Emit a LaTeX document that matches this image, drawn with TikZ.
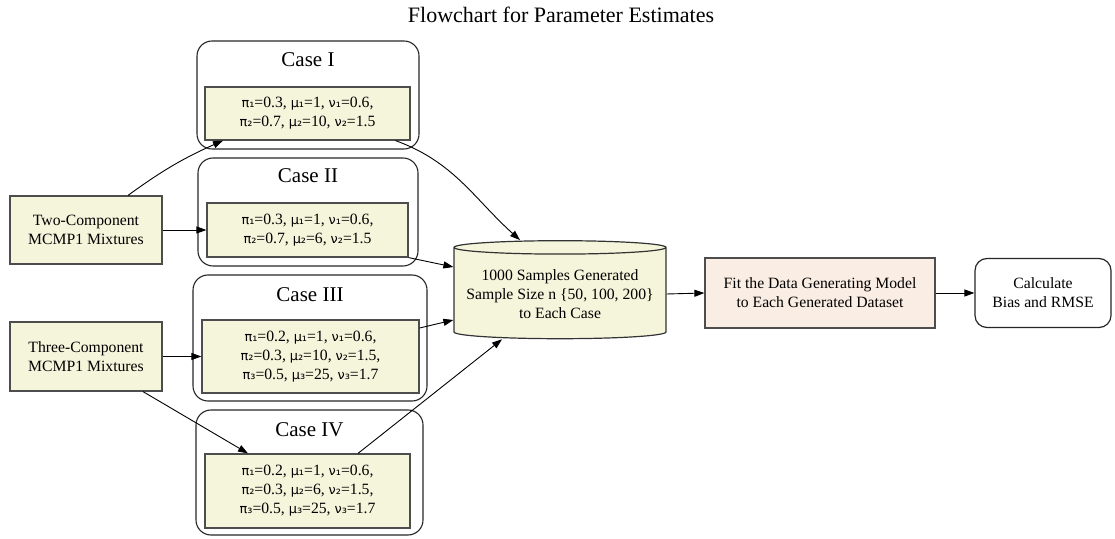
\documentclass[tikz,border=0pt]{standalone}
\usepackage{fontspec}
\setmainfont{Liberation Serif}
\newfontfamily\grk{DejaVu Sans}[Scale=0.82]
\usetikzlibrary{arrows.meta,shapes.geometric}

\newcommand\gk[1]{{\grk #1}}
\newcommand\bodyfont{\fontsize{15.7}{19}\selectfont}
\newcommand\casefont{\fontsize{21}{25}\selectfont}

\definecolor{boxfill}{HTML}{F5F5DC}
\definecolor{fitfill}{HTML}{FAEDE3}
\definecolor{boxline}{HTML}{4D4D4D}

\tikzset{
    box/.style={draw=boxline, fill=boxfill, line width=1.2pt, align=center,
        inner sep=2pt, font=\bodyfont},
    casebox/.style={draw=black!85, line width=1.1pt, rounded corners=15pt,
        inner sep=0pt},
    casetitle/.style={inner sep=0pt, font=\casefont},
    cyl/.style={cylinder, shape border rotate=90, aspect=0.07, draw=black!80,
        line width=1.2pt, cylinder uses custom fill, cylinder body fill=boxfill,
        cylinder end fill=boxfill, align=center, inner sep=2pt, font=\bodyfont},
    link/.style={->, line width=0.9pt}
}

\begin{document}
\begin{tikzpicture}[x=1pt,y=1pt,>={Triangle[length=10pt,width=7pt]}]
  % Page
    \useasboundingbox (0,0) rectangle (1115,538);

  % Title
    \node[font=\fontsize{22}{26}\selectfont, inner sep=0pt] (title) at (561,523)
      {Flowchart for Parameter Estimates};

  % Mixture types
    \node[box, minimum width=152pt, minimum height=68pt] (two) at (86,308)
      {Two-Component\\MCMP1 Mixtures};
    \node[box, minimum width=152pt, minimum height=69pt] (three) at (86,181.5)
      {Three-Component\\MCMP1 Mixtures};

  % Cases
    \node[casebox, minimum width=222pt, minimum height=108pt] (c1) at (308,443) {};
    \node[casetitle] (c1t) at (308,478.5) {Case I};
    \node[box, minimum width=205pt, minimum height=53pt] (c1in) at (307.5,424.5)
      {\gk{π₁}=0.3, \gk{μ₁}=1, \gk{ν₁}=0.6,\\\gk{π₂}=0.7, \gk{μ₂}=10, \gk{ν₂}=1.5};

    \node[casebox, minimum width=220pt, minimum height=108pt] (c2) at (308,326) {};
    \node[casetitle] (c2t) at (308,362.5) {Case II};
    \node[box, minimum width=201pt, minimum height=54pt] (c2in) at (307.5,308)
      {\gk{π₁}=0.3, \gk{μ₁}=1, \gk{ν₁}=0.6,\\\gk{π₂}=0.7, \gk{μ₂}=6, \gk{ν₂}=1.5};

    \node[casebox, minimum width=234pt, minimum height=126pt] (c3) at (310,200) {};
    \node[casetitle] (c3t) at (310,243) {Case III};
    \node[box, minimum width=217pt, minimum height=73pt] (c3in) at (310.5,181.5)
      {\gk{π₁}=0.2, \gk{μ₁}=1, \gk{ν₁}=0.6,\\\gk{π₂}=0.3, \gk{μ₂}=10, \gk{ν₂}=1.5,\\
       \gk{π₃}=0.5, \gk{μ₃}=25, \gk{ν₃}=1.7};

    \node[casebox, minimum width=227pt, minimum height=125pt] (c4) at (309.5,65.5) {};
    \node[casetitle] (c4t) at (309.5,108) {Case IV};
    \node[box, minimum width=205pt, minimum height=74pt] (c4in) at (307.5,47)
      {\gk{π₁}=0.2, \gk{μ₁}=1, \gk{ν₁}=0.6,\\\gk{π₂}=0.3, \gk{μ₂}=6, \gk{ν₂}=1.5,\\
       \gk{π₃}=0.5, \gk{μ₃}=25, \gk{ν₃}=1.7};

  % Simulation and estimation
    \node[cyl, minimum width=212pt, minimum height=98pt] (samp) at (560,244)
      {1000 Samples Generated\\Sample Size n \{50, 100, 200\}\\to Each Case};
    \node[box, fill=fitfill, minimum width=230pt, minimum height=70pt] (fit) at (820,245)
      {Fit the Data Generating Model\\to Each Generated Dataset};
    \node[box, draw=black!85, fill=white, rounded corners=12pt, minimum width=136pt,
      minimum height=69pt] (calc) at (1043,245) {Calculate\\Bias and RMSE};

  % Links
    \draw[link] ([xshift=42pt]two.north) to[bend left=6] ([xshift=-84.5pt]c1in.south);
    \draw[link] (two.east) -- (c2in.west);
    \draw[link] (three.east) -- (c3in.west);
    \draw[link] ([xshift=57pt]three.south) -- ([xshift=-59.5pt]c4in.north);

    \draw[link] ([xshift=88pt]c1in.south) to[out=-20, in=138] ([xshift=-40pt]samp.north);
    \draw[link] (c2in.south east) -- ([yshift=27pt]samp.west);
    \draw[link] ([yshift=28.5pt]c3in.east) -- ([yshift=-26pt]samp.west);
    \draw[link] ([xshift=50.5pt]c4in.north) -- ([xshift=-58pt]samp.south);

    \draw[link] (samp.east) -- (fit.west);
    \draw[link] (fit.east) -- (calc.west);
\end{tikzpicture}
\end{document}
